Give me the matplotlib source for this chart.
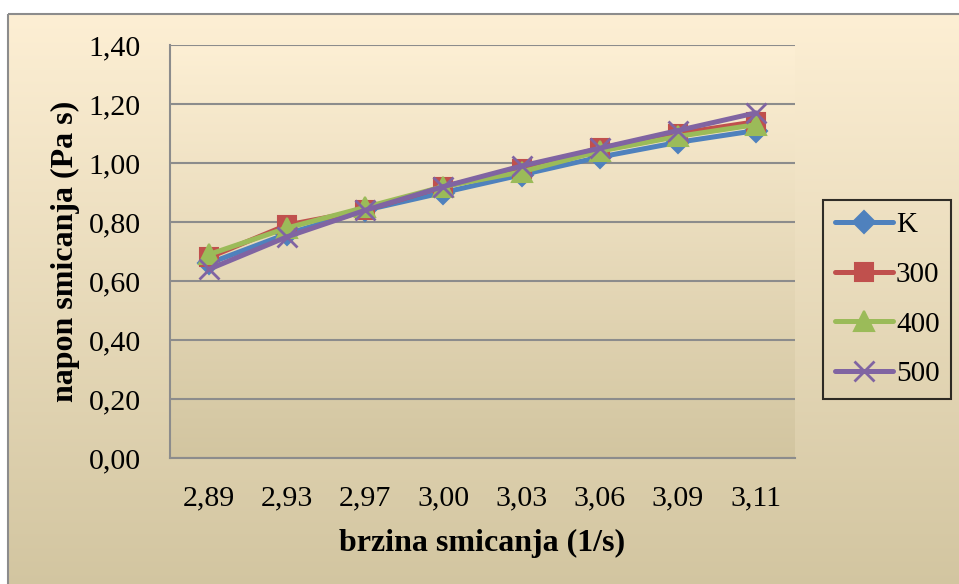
import numpy as np
import matplotlib.pyplot as plt
from matplotlib.colors import LinearSegmentedColormap
from matplotlib.patches import Rectangle

# Data
shear_rate = ["2,89", "2,93", "2,97", "3,00", "3,03", "3,06", "3,09", "3,11"]
k_vals   = [0.66, 0.76, 0.84, 0.90, 0.96, 1.02, 1.07, 1.11]
s300     = [0.68, 0.79, 0.84, 0.92, 0.98, 1.05, 1.10, 1.14]
s400     = [0.69, 0.78, 0.85, 0.92, 0.97, 1.04, 1.09, 1.13]
s500     = [0.64, 0.75, 0.84, 0.92, 0.99, 1.05, 1.11, 1.17]
series_names = ["K", "300", "400", "500"]
y_ticks = [0.0, 0.2, 0.4, 0.6, 0.8, 1.0, 1.2, 1.4]

plt.rcParams['font.family'] = ['Liberation Serif', 'DejaVu Serif']

W, H = 959, 584
fig = plt.figure(figsize=(W / 100, H / 100), dpi=100)

# cream -> tan gradient like the Excel chart fill
grad = LinearSegmentedColormap.from_list("fill", ["#FDEFD4", "#D2C5A0"])
ramp = np.linspace(0, 1, 256).reshape(-1, 1)

# chart area background (starts a bit inside the image, runs off the right/bottom)
bg = fig.add_axes([0, 0, 1, 1])
bg.set_xlim(0, W)
bg.set_ylim(H, 0)
bg.axis("off")
bg.imshow(ramp, cmap=grad, aspect="auto", extent=[8, W + 2, H + 6, 14], zorder=0)
bg.add_patch(Rectangle((8, 14), W, H, fill=False, edgecolor="#8C8C8C", lw=1.5, zorder=1))

# plot area
left, top, right, bottom = 170, 45, 795, 458
ax = fig.add_axes([left / W, 1 - bottom / H, (right - left) / W, (bottom - top) / H])
ax.set_facecolor("none")
ax.imshow(ramp, cmap=grad, aspect="auto", extent=[0, 1, 0, 1],
          transform=ax.transAxes, zorder=0)

x = np.arange(len(shear_rate))
styles = [
    (k_vals, "#4F81BD", "D", 11),
    (s300, "#C0504D", "s", 13),
    (s400, "#9BBB59", "^", 14),
    (s500, "#8064A2", "x", 14),
]
for (vals, col, mk, ms), name in zip(styles, series_names):
    ax.plot(x, vals, color=col, lw=3.6, marker=mk, markersize=ms,
            markeredgewidth=1.5 if mk != "x" else 2, markeredgecolor=col,
            label=name, zorder=3, solid_capstyle="round")

ax.set_xlim(-0.5, len(shear_rate) - 0.5)
ax.set_ylim(0, 1.4)
ax.set_yticks(y_ticks)
ax.set_yticklabels([f"{v:.2f}".replace(".", ",") for v in y_ticks])
ax.set_xticks(x)
ax.set_xticklabels(shear_rate)
ax.grid(axis="y", color="#8C8C8C", lw=1.5, zorder=1)
ax.set_axisbelow(True)
for s in ["top", "right"]:
    ax.spines[s].set_visible(False)
for s in ["left", "bottom"]:
    ax.spines[s].set_color("#8C8C8C")
    ax.spines[s].set_linewidth(1.5)
ax.tick_params(length=0, labelsize=21.5, pad=20)
ax.tick_params(axis="y", pad=21)

ax.set_xlabel("brzina smicanja (1/s)", fontsize=23, fontweight="bold", labelpad=12)
ax.set_ylabel("napon smicanja (Pa s)", fontsize=23, fontweight="bold", labelpad=6)

leg = fig.legend(loc="upper left", bbox_to_anchor=(823 / W, 1 - 200 / H),
                 fontsize=21, frameon=True, fancybox=False, handlelength=2.0,
                 handletextpad=0.1, labelspacing=0.8, borderpad=0.4,
                 borderaxespad=0)
leg.get_frame().set_edgecolor("black")
leg.get_frame().set_linewidth(1.5)
leg.get_frame().set_facecolor("none")

fig.savefig("out.png", dpi=100)
